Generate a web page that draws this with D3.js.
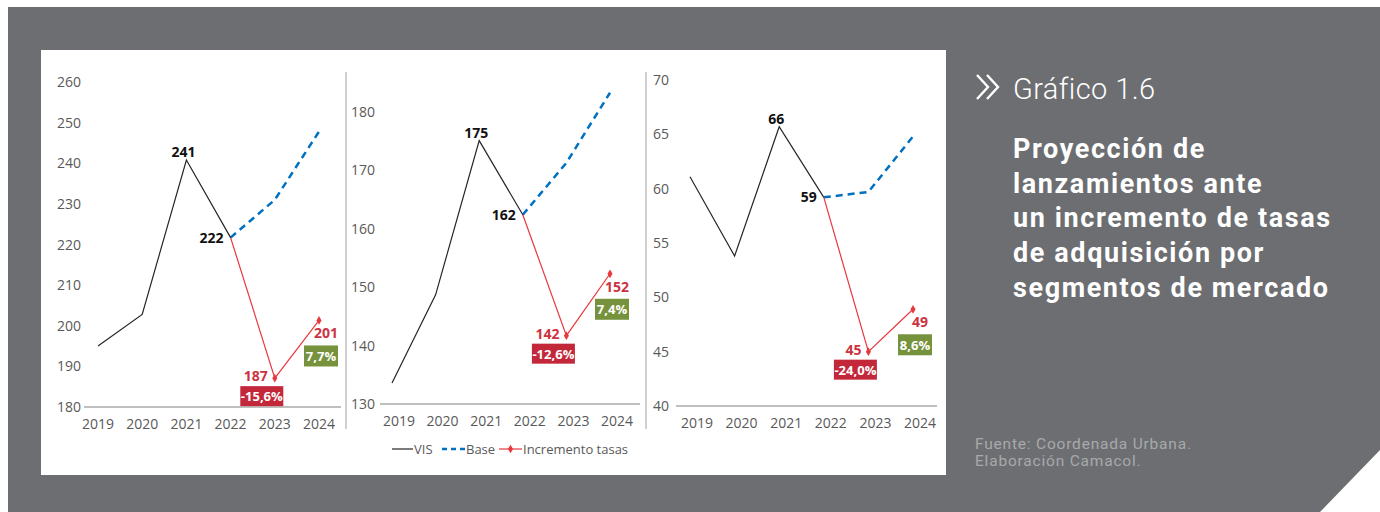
<!DOCTYPE html>
<html>
<head>
<meta charset="utf-8">
<script src="https://cdn.jsdelivr.net/npm/d3@7"></script>
<style>
  html, body { margin: 0; padding: 0; background: #ffffff; }
  svg { display: block; }
</style>
</head>
<body>
<script>
// values
const years = ["2019", "2020", "2021", "2022", "2023", "2024"]

const vis1 = [195, 202.8, 240.8, 221.7]
const base1 = [221.7, 231, 247.8]
const incr1 = [221.7, 187.1, 201.3]
const pct1 = [-15.6, 7.7]
const ticks1 = [180, 190, 200, 210, 220, 230, 240, 250, 260]

const vis2 = [133.6, 148.7, 175.1, 162.4]
const base2 = [162.4, 171.3, 183.3]
const incr2 = [162.4, 141.7, 152.3]
const pct2 = [-12.6, 7.4]
const ticks2 = [130, 140, 150, 160, 170, 180]

const vis3 = [61.1, 53.8, 65.7, 59.2]
const base3 = [59.2, 59.7, 64.8]
const incr3 = [59.2, 45.0, 48.9]
const pct3 = [-24.0, 8.6]
const ticks3 = [40, 45, 50, 55, 60, 65, 70]

const legendNames = ["VIS", "Base", "Incremento tasas"]

const W = 1380, H = 512
const bg = "#6d6e71"
const txtgray = "#595959"
const axisgray = "#bfbfbf"
const blue = "#0070c0"
const redline = "#e8383d"
const redtext = "#cc3340"
const redbox = "#c3283a"
const greenbox = "#76923c"
const chartfont = "'Open Sans', sans-serif"
const sidefont = "Roboto, sans-serif"

// comma decimals, plain hyphen for negatives
const locale = d3.formatLocale({ decimal: ",", thousands: ".", grouping: [3], currency: ["$", ""], minus: "-" })
const fmtPct = v => locale.format(".1f")(v) + "%"
const fmtInt = d3.format(".0f")

// panel layout (pixels)
const panels = [
    { vis: vis1, base: base1, incr: incr1, pct: pct1, ticks: ticks1,
      x0: 98, x1: 319, yDom: [180, 260], yRng: [407, 82], tickX: 81, axis: [84, 341], yearShift: 0 },
    { vis: vis2, base: base2, incr: incr2, pct: pct2, ticks: ticks2,
      x0: 392, x1: 610, yDom: [130, 180], yRng: [404, 112], tickX: 375, axis: [380, 640], yearShift: 7 },
    { vis: vis3, base: base3, incr: incr3, pct: pct3, ticks: ticks3,
      x0: 690, x1: 913, yDom: [40, 70], yRng: [406, 80], tickX: 669, axis: [676, 937], yearShift: 7 }
]

const svg = d3.select("body").append("svg").attr("width", W).attr("height", H)

// background with cut corner
svg.append("path")
    .attr("d", `M8,7 H${W} V450 L1320,${H} H8 Z`)
    .attr("fill", bg)

svg.append("rect")
    .attr("x", 41).attr("y", 50)
    .attr("width", 905).attr("height", 425)
    .attr("fill", "#ffffff")

// separators between panels
for (let sx of [346, 646]) {
    svg.append("line")
        .attr("x1", sx).attr("x2", sx).attr("y1", 72).attr("y2", 429)
        .attr("stroke", "#d0d0d0").attr("stroke-width", 2)
}

for (let p of panels) {
    let g = svg.append("g")
    let x = d3.scalePoint().domain(years).range([p.x0, p.x1])
    let y = d3.scaleLinear().domain(p.yDom).range(p.yRng)

    // y tick labels
    g.selectAll(".ytick").data(p.ticks).join("text")
        .attr("x", p.tickX).attr("y", d => y(d) + 5)
        .attr("text-anchor", "end")
        .style("font-family", chartfont).style("font-size", "14px")
        .attr("fill", txtgray)
        .text(d => d)

    // x axis line
    let ay = y(p.yDom[0])
    g.append("line")
        .attr("x1", p.axis[0]).attr("x2", p.axis[1]).attr("y1", ay).attr("y2", ay)
        .attr("stroke", axisgray).attr("stroke-width", 2)

    g.selectAll(".year").data(years).join("text")
        .attr("x", d => x(d) + p.yearShift).attr("y", ay + 22)
        .attr("text-anchor", "middle")
        .style("font-family", chartfont).style("font-size", "14px")
        .attr("fill", txtgray)
        .text(d => d)

    let line = d3.line().x(d => x(d[0])).y(d => y(d[1]))
    let visPts = p.vis.map((v, i) => [years[i], v])
    let basePts = p.base.map((v, i) => [years[i + 3], v])
    let incrPts = p.incr.map((v, i) => [years[i + 3], v])

    g.append("path").attr("d", line(basePts))
        .attr("fill", "none").attr("stroke", blue).attr("stroke-width", 2.5)
        .attr("stroke-dasharray", "7,5")
    g.append("path").attr("d", line(incrPts))
        .attr("fill", "none").attr("stroke", redline).attr("stroke-width", 1.2)
    g.append("path").attr("d", line(visPts))
        .attr("fill", "none").attr("stroke", "#262626").attr("stroke-width", 1.2)

    g.selectAll(".mk").data(incrPts.slice(1)).join("path")
        .attr("d", d3.symbol(d3.symbolDiamond, 22))
        .attr("transform", d => `translate(${x(d[0])},${y(d[1])})`)
        .attr("fill", redline)

    // VIS labels on 2021 and 2022
    let peak = visPts[2], last = visPts[3]
    g.append("text")
        .attr("x", x(peak[0]) - 3).attr("y", y(peak[1]) - 3)
        .attr("text-anchor", "middle")
        .style("font-family", chartfont).style("font-size", "14px").style("font-weight", "bold")
        .attr("fill", "#111111")
        .text(fmtInt(peak[1]))
    g.append("text")
        .attr("x", x(last[0]) - 7).attr("y", y(last[1]) + 5)
        .attr("text-anchor", "end")
        .style("font-family", chartfont).style("font-size", "14px").style("font-weight", "bold")
        .attr("fill", "#111111")
        .text(fmtInt(last[1]))

    // incremento labels
    let a = incrPts[1], b = incrPts[2]
    g.append("text")
        .attr("x", x(a[0]) - 7).attr("y", y(a[1]) + 3)
        .attr("text-anchor", "end")
        .style("font-family", chartfont).style("font-size", "14px").style("font-weight", "bold")
        .attr("fill", redtext)
        .text(fmtInt(a[1]))
    g.append("text")
        .attr("x", x(b[0]) + 7).attr("y", y(b[1]) + 18)
        .attr("text-anchor", "middle")
        .style("font-family", chartfont).style("font-size", "14px").style("font-weight", "bold")
        .attr("fill", redtext)
        .text(fmtInt(b[1]))

    let boxes = [
        { cx: x(a[0]) - 13, top: y(a[1]) + 8, w: 43, h: 20, fill: redbox, v: p.pct[0] },
        { cx: x(b[0]) + 2, top: y(b[1]) + 25, w: 34, h: 21, fill: greenbox, v: p.pct[1] }
    ]
    for (let bx of boxes) {
        g.append("rect")
            .attr("x", bx.cx - bx.w / 2).attr("y", bx.top)
            .attr("width", bx.w).attr("height", bx.h)
            .attr("fill", bx.fill)
        g.append("text")
            .attr("x", bx.cx).attr("y", bx.top + bx.h / 2 + 5)
            .attr("text-anchor", "middle")
            .style("font-family", chartfont).style("font-size", "13px").style("font-weight", "bold")
            .attr("fill", "#ffffff")
            .text(fmtPct(bx.v))
    }
}

// legend
const leg = svg.append("g")
const ly = 449
leg.append("line").attr("x1", 392).attr("x2", 413).attr("y1", ly).attr("y2", ly)
    .attr("stroke", "#262626").attr("stroke-width", 1.2)
leg.append("line").attr("x1", 442).attr("x2", 465).attr("y1", ly).attr("y2", ly)
    .attr("stroke", blue).attr("stroke-width", 2.5).attr("stroke-dasharray", "5,4")
leg.append("line").attr("x1", 499).attr("x2", 522).attr("y1", ly).attr("y2", ly)
    .attr("stroke", redline).attr("stroke-width", 1.2)
leg.append("path").attr("d", d3.symbol(d3.symbolDiamond, 22))
    .attr("transform", `translate(510.5,${ly})`).attr("fill", redline)
leg.selectAll(".lt").data(legendNames).join("text")
    .attr("x", (d, i) => [414, 466, 523][i]).attr("y", ly + 5)
    .style("font-family", chartfont).style("font-size", "13px")
    .attr("fill", txtgray)
    .text(d => d)

// side text
const side = svg.append("g")
for (let dx of [0, 10]) {
    side.append("polyline")
        .attr("points", `${977 + dx},75 ${988 + dx},87 ${977 + dx},99`)
        .attr("fill", "none").attr("stroke", "#ffffff").attr("stroke-width", 2.4)
}
side.append("text")
    .attr("x", 1013).attr("y", 99)
    .style("font-family", sidefont).style("font-size", "29px").style("font-weight", 300)
    .style("letter-spacing", "0.4px")
    .attr("fill", "#ffffff")
    .text("Gráfico 1.6")

const titleLines = ["Proyección de", "lanzamientos ante", "un incremento de tasas", "de adquisición por", "segmentos de mercado"]
side.selectAll(".tl").data(titleLines).join("text")
    .attr("x", 1013).attr("y", (d, i) => 158 + i * 34.7)
    .style("font-family", sidefont).style("font-size", "27px").style("font-weight", "bold")
    .style("letter-spacing", "1.6px")
    .attr("fill", "#ffffff")
    .text(d => d)

const srcLines = ["Fuente: Coordenada Urbana.", "Elaboración Camacol."]
side.selectAll(".sl").data(srcLines).join("text")
    .attr("x", 975).attr("y", (d, i) => 448.5 + i * 17.3)
    .style("font-family", sidefont).style("font-size", "15.5px")
    .style("letter-spacing", "0.8px")
    .attr("fill", "#a7a9ac")
    .text(d => d)
</script>
</body>
</html>
